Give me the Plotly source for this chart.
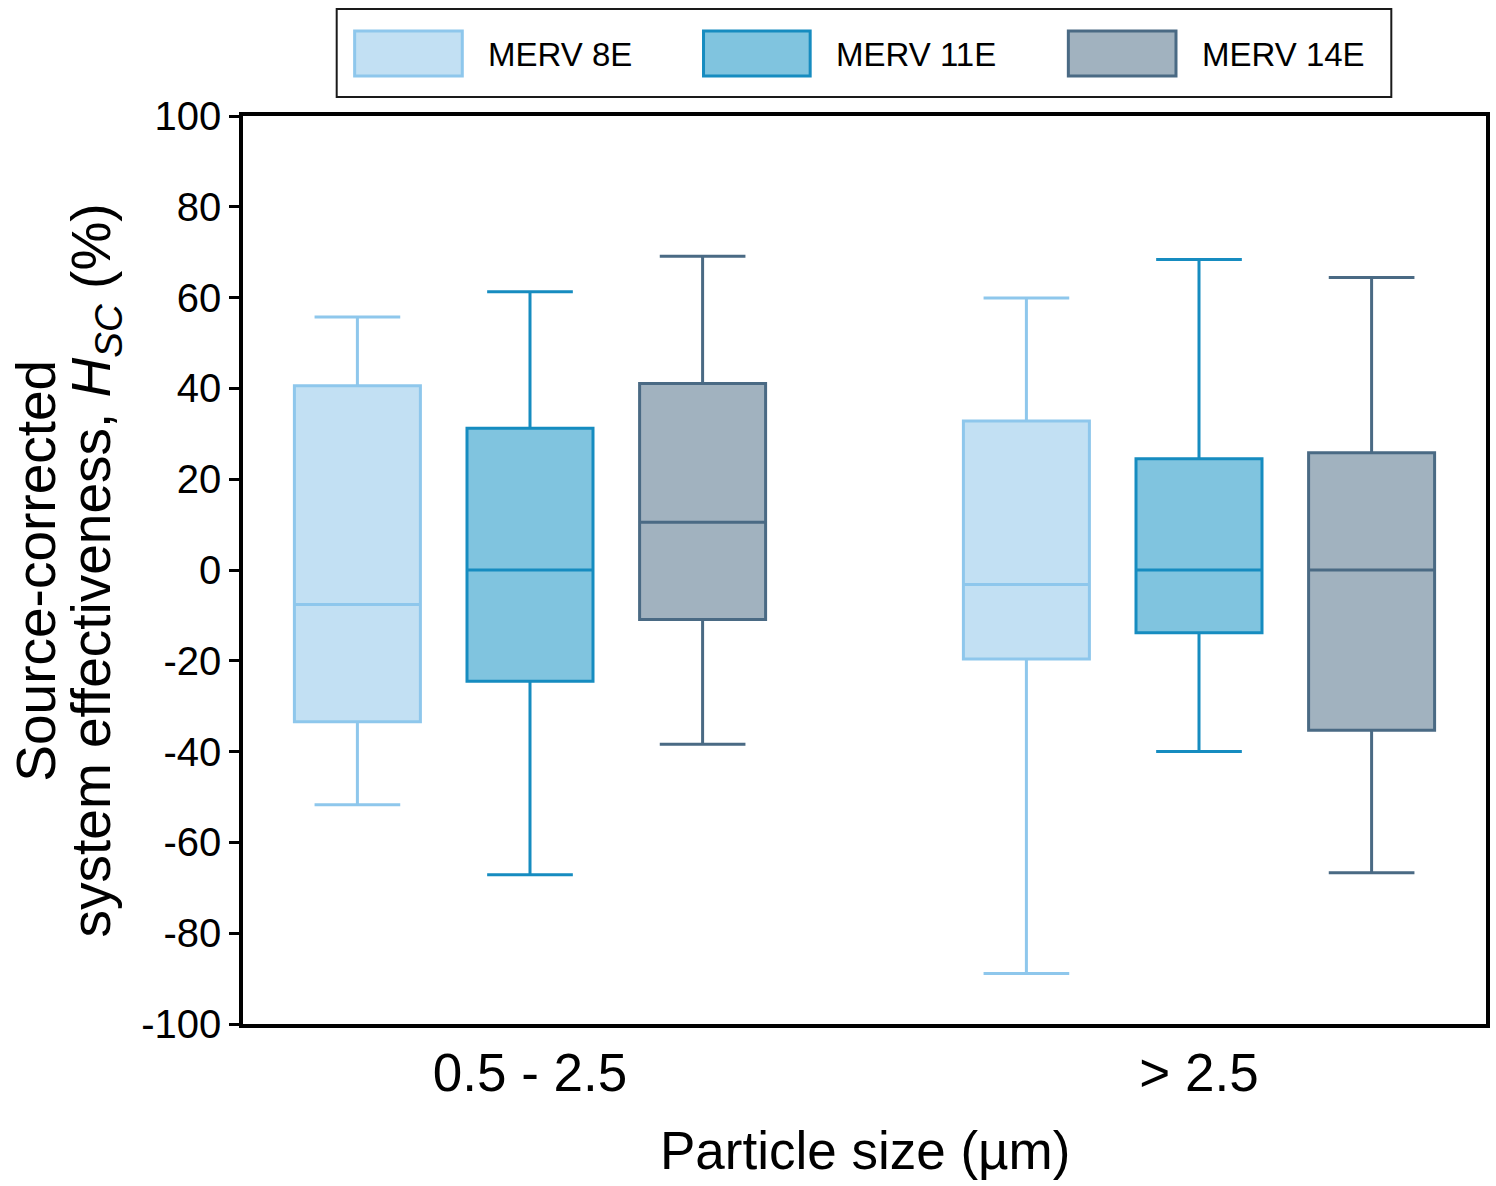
import plotly.graph_objects as go

# Particle size bins on the x axis
size_bins = ["0.5 - 2.5", "> 2.5"]

# Filter classes
filters = ["MERV 8E", "MERV 11E", "MERV 14E"]

# Box statistics (%) per filter, one value per size bin
merv8_upper = [55.7, 59.9]
merv8_q3 = [40.6, 32.8]
merv8_median = [-7.6, -3.2]
merv8_q1 = [-33.4, -19.6]
merv8_lower = [-51.7, -88.9]

merv11_upper = [61.3, 68.4]
merv11_q3 = [31.2, 24.5]
merv11_median = [0.0, 0.0]
merv11_q1 = [-24.5, -13.8]
merv11_lower = [-67.1, -40.0]

merv14_upper = [69.1, 64.4]
merv14_q3 = [41.1, 25.8]
merv14_median = [10.5, 0.0]
merv14_q1 = [-10.9, -35.3]
merv14_lower = [-38.4, -66.7]

y_ticks = [100, 80, 60, 40, 20, 0, -20, -40, -60, -80, -100]

fill_colors = ["#c2e0f3", "#80c4df", "#a1b2bf"]
line_colors = ["#8ec7ec", "#168cc0", "#4a6a84"]

stats = [
    (merv8_lower, merv8_q1, merv8_median, merv8_q3, merv8_upper),
    (merv11_lower, merv11_q1, merv11_median, merv11_q3, merv11_upper),
    (merv14_lower, merv14_q1, merv14_median, merv14_q3, merv14_upper),
]

FONT = "Liberation Sans, Arial, Helvetica, sans-serif"

W, H = 1496, 1186
ML, MR, MT, MB = 243, 6, 116, 162
PW, PH = W - ML - MR, H - MT - MB


def px(x):
    return (x - ML) / PW


def py(y):
    return (H - MB - y) / PH


fig = go.Figure()
for name, fc, lc, (lo, q1, med, q3, up) in zip(filters, fill_colors, line_colors, stats):
    fig.add_trace(go.Box(
        x=size_bins,
        lowerfence=lo,
        q1=q1,
        median=med,
        q3=q3,
        upperfence=up,
        name=name,
        fillcolor=fc,
        line=dict(color=lc, width=3),
        whiskerwidth=0.68,
        boxpoints=False,
        showlegend=False,
        hoverinfo="skip",
    ))

# Legend panel drawn as a framed row of swatches
shapes = [dict(type="rect", xref="paper", yref="paper",
               x0=px(337), x1=px(1395), y0=py(9), y1=py(97),
               line=dict(color="#1a1a1a", width=2), fillcolor="white", layer="above")]
annotations = []
swatch_x = [(355, 463), (705, 812), (1071, 1179)]
label_x = [487, 836, 1203]
for name, fc, lc, (sx0, sx1), lx in zip(filters, fill_colors, line_colors, swatch_x, label_x):
    shapes.append(dict(type="rect", xref="paper", yref="paper",
                       x0=px(sx0), x1=px(sx1), y0=py(31), y1=py(76),
                       line=dict(color=lc, width=3), fillcolor=fc, layer="above"))
    annotations.append(dict(text=name, xref="paper", yref="paper",
                            x=px(lx), y=py(55), xanchor="left", yanchor="middle",
                            showarrow=False, font=dict(family=FONT, size=33, color="black")))

# Two-line y-axis title
annotations.append(dict(text="Source-corrected", xref="paper", yref="paper",
                        x=px(35), y=py(571), xanchor="center", yanchor="middle",
                        textangle=-90, showarrow=False,
                        font=dict(family=FONT, size=55, color="black")))
annotations.append(dict(text="system effectiveness, <i>H</i><sub><i>SC</i></sub> (%)",
                        xref="paper", yref="paper",
                        x=px(95), y=py(570), xanchor="center", yanchor="middle",
                        textangle=-90, showarrow=False,
                        font=dict(family=FONT, size=55, color="black")))

# x-axis title
annotations.append(dict(text="Particle size (µm)", xref="paper", yref="paper",
                        x=0.5, y=py(1150), xanchor="center", yanchor="middle",
                        showarrow=False, font=dict(family=FONT, size=53, color="black")))

fig.update_layout(
    width=W, height=H,
    margin=dict(l=ML, r=MR, t=MT, b=MB, pad=0),
    paper_bgcolor="white",
    plot_bgcolor="white",
    boxmode="group",
    boxgap=0.226,
    boxgroupgap=0.27,
    shapes=shapes,
    annotations=annotations,
    xaxis=dict(
        type="category",
        categoryorder="array",
        categoryarray=size_bins,
        range=[-0.429, 1.429],
        showgrid=False, zeroline=False,
        showline=True, linecolor="black", linewidth=3.5, mirror=True,
        ticks="",
        ticklabelstandoff=0,
        tickfont=dict(family=FONT, size=53, color="black"),
    ),
    yaxis=dict(
        range=[-100, 100],
        tickvals=y_ticks,
        ticktext=[str(v) for v in y_ticks],
        showgrid=False, zeroline=False,
        showline=True, linecolor="black", linewidth=3.5, mirror=True,
        ticks="outside", ticklen=10, tickwidth=3, tickcolor="black",
        ticklabelstandoff=0,
        tickfont=dict(family=FONT, size=40, color="black"),
    ),
)

fig.write_html("out.html")
